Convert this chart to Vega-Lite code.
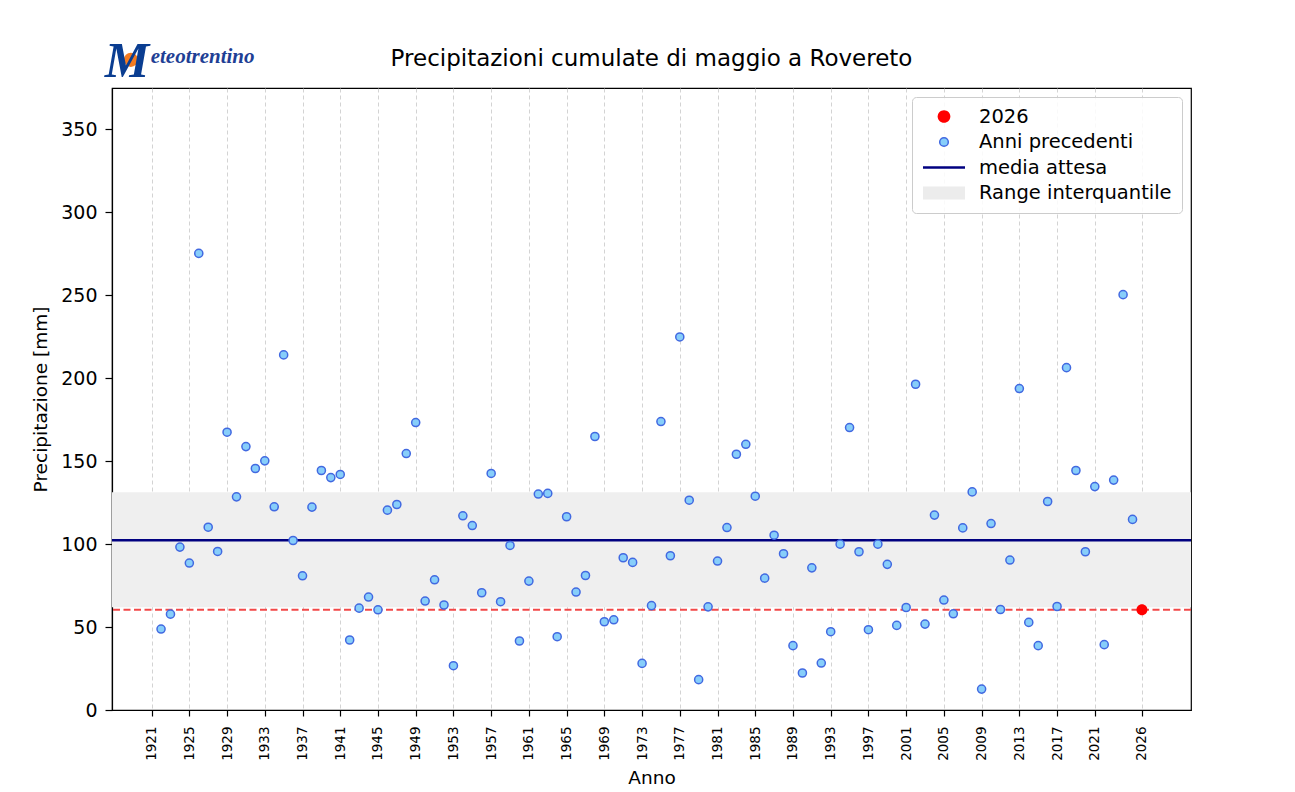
{
  "$schema": "https://vega.github.io/schema/vega-lite/v6.json",
  "width": 1079,
  "height": 622,
  "autosize": {"type": "none"},
  "padding": {"left": 112, "top": 88, "right": 104, "bottom": 82},
  "background": "white",
  "title": {
    "text": "Precipitazioni cumulate di maggio a Rovereto",
    "font": "DejaVu Sans",
    "fontSize": 23,
    "fontWeight": "normal",
    "color": "#000000",
    "anchor": "middle",
    "offset": -34
  },
  "config": {
    "font": "DejaVu Sans",
    "view": {"stroke": "#000000", "strokeWidth": 1.2},
    "axis": {
      "domainColor": "#000000",
      "domainWidth": 1.2,
      "tickColor": "#000000",
      "tickWidth": 1.2,
      "labelColor": "#000000",
      "titleColor": "#000000",
      "labelFont": "DejaVu Sans",
      "titleFont": "DejaVu Sans",
      "titleFontWeight": "normal"
    },
    "legend": {
      "orient": "top-right",
      "offset": 9,
      "padding": 10,
      "fillColor": "rgba(255,255,255,0.85)",
      "strokeColor": "#cccccc",
      "cornerRadius": 4,
      "labelFont": "DejaVu Sans",
      "labelFontSize": 19.5,
      "labelColor": "#000000",
      "labelLimit": 400,
      "rowPadding": 5.5,
      "clipHeight": 19,
      "labelOffset": 13,
      "symbolOffset": 0,
      "symbolSize": 1764,
      "symbolStrokeWidth": 1.5
    }
  },
  "datasets": {
    "anni": [
      {"anno": 1922, "valore": 48.8, "serie": "Anni precedenti"},
      {"anno": 1923, "valore": 57.8, "serie": "Anni precedenti"},
      {"anno": 1924, "valore": 98.2, "serie": "Anni precedenti"},
      {"anno": 1925, "valore": 88.6, "serie": "Anni precedenti"},
      {"anno": 1926, "valore": 275.3, "serie": "Anni precedenti"},
      {"anno": 1927, "valore": 110.2, "serie": "Anni precedenti"},
      {"anno": 1928, "valore": 95.6, "serie": "Anni precedenti"},
      {"anno": 1929, "valore": 167.5, "serie": "Anni precedenti"},
      {"anno": 1930, "valore": 128.5, "serie": "Anni precedenti"},
      {"anno": 1931, "valore": 158.8, "serie": "Anni precedenti"},
      {"anno": 1932, "valore": 145.6, "serie": "Anni precedenti"},
      {"anno": 1933, "valore": 150.2, "serie": "Anni precedenti"},
      {"anno": 1934, "valore": 122.5, "serie": "Anni precedenti"},
      {"anno": 1935, "valore": 214.1, "serie": "Anni precedenti"},
      {"anno": 1936, "valore": 102.2, "serie": "Anni precedenti"},
      {"anno": 1937, "valore": 80.9, "serie": "Anni precedenti"},
      {"anno": 1938, "valore": 122.3, "serie": "Anni precedenti"},
      {"anno": 1939, "valore": 144.4, "serie": "Anni precedenti"},
      {"anno": 1940, "valore": 140.1, "serie": "Anni precedenti"},
      {"anno": 1941, "valore": 142.0, "serie": "Anni precedenti"},
      {"anno": 1942, "valore": 42.2, "serie": "Anni precedenti"},
      {"anno": 1943, "valore": 61.4, "serie": "Anni precedenti"},
      {"anno": 1944, "valore": 68.1, "serie": "Anni precedenti"},
      {"anno": 1945, "valore": 60.4, "serie": "Anni precedenti"},
      {"anno": 1946, "valore": 120.5, "serie": "Anni precedenti"},
      {"anno": 1947, "valore": 123.9, "serie": "Anni precedenti"},
      {"anno": 1948, "valore": 154.6, "serie": "Anni precedenti"},
      {"anno": 1949, "valore": 173.3, "serie": "Anni precedenti"},
      {"anno": 1950, "valore": 65.7, "serie": "Anni precedenti"},
      {"anno": 1951, "valore": 78.5, "serie": "Anni precedenti"},
      {"anno": 1952, "valore": 63.3, "serie": "Anni precedenti"},
      {"anno": 1953, "valore": 26.7, "serie": "Anni precedenti"},
      {"anno": 1954, "valore": 117.1, "serie": "Anni precedenti"},
      {"anno": 1955, "valore": 111.2, "serie": "Anni precedenti"},
      {"anno": 1956, "valore": 70.7, "serie": "Anni precedenti"},
      {"anno": 1957, "valore": 142.6, "serie": "Anni precedenti"},
      {"anno": 1958, "valore": 65.3, "serie": "Anni precedenti"},
      {"anno": 1959, "valore": 99.2, "serie": "Anni precedenti"},
      {"anno": 1960, "valore": 41.6, "serie": "Anni precedenti"},
      {"anno": 1961, "valore": 77.7, "serie": "Anni precedenti"},
      {"anno": 1962, "valore": 130.2, "serie": "Anni precedenti"},
      {"anno": 1963, "valore": 130.6, "serie": "Anni precedenti"},
      {"anno": 1964, "valore": 44.2, "serie": "Anni precedenti"},
      {"anno": 1965, "valore": 116.5, "serie": "Anni precedenti"},
      {"anno": 1966, "valore": 71.1, "serie": "Anni precedenti"},
      {"anno": 1967, "valore": 81.1, "serie": "Anni precedenti"},
      {"anno": 1968, "valore": 164.9, "serie": "Anni precedenti"},
      {"anno": 1969, "valore": 53.2, "serie": "Anni precedenti"},
      {"anno": 1970, "valore": 54.4, "serie": "Anni precedenti"},
      {"anno": 1971, "valore": 91.8, "serie": "Anni precedenti"},
      {"anno": 1972, "valore": 89.0, "serie": "Anni precedenti"},
      {"anno": 1973, "valore": 28.1, "serie": "Anni precedenti"},
      {"anno": 1974, "valore": 62.9, "serie": "Anni precedenti"},
      {"anno": 1975, "valore": 173.9, "serie": "Anni precedenti"},
      {"anno": 1976, "valore": 93.0, "serie": "Anni precedenti"},
      {"anno": 1977, "valore": 224.9, "serie": "Anni precedenti"},
      {"anno": 1978, "valore": 126.5, "serie": "Anni precedenti"},
      {"anno": 1979, "valore": 18.3, "serie": "Anni precedenti"},
      {"anno": 1980, "valore": 62.2, "serie": "Anni precedenti"},
      {"anno": 1981, "valore": 89.8, "serie": "Anni precedenti"},
      {"anno": 1982, "valore": 110.0, "serie": "Anni precedenti"},
      {"anno": 1983, "valore": 154.2, "serie": "Anni precedenti"},
      {"anno": 1984, "valore": 160.2, "serie": "Anni precedenti"},
      {"anno": 1985, "valore": 128.9, "serie": "Anni precedenti"},
      {"anno": 1986, "valore": 79.5, "serie": "Anni precedenti"},
      {"anno": 1987, "valore": 105.4, "serie": "Anni precedenti"},
      {"anno": 1988, "valore": 94.2, "serie": "Anni precedenti"},
      {"anno": 1989, "valore": 38.8, "serie": "Anni precedenti"},
      {"anno": 1990, "valore": 22.3, "serie": "Anni precedenti"},
      {"anno": 1991, "valore": 85.7, "serie": "Anni precedenti"},
      {"anno": 1992, "valore": 28.3, "serie": "Anni precedenti"},
      {"anno": 1993, "valore": 47.2, "serie": "Anni precedenti"},
      {"anno": 1994, "valore": 100.0, "serie": "Anni precedenti"},
      {"anno": 1995, "valore": 170.3, "serie": "Anni precedenti"},
      {"anno": 1996, "valore": 95.4, "serie": "Anni precedenti"},
      {"anno": 1997, "valore": 48.4, "serie": "Anni precedenti"},
      {"anno": 1998, "valore": 100.0, "serie": "Anni precedenti"},
      {"anno": 1999, "valore": 87.8, "serie": "Anni precedenti"},
      {"anno": 2000, "valore": 51.0, "serie": "Anni precedenti"},
      {"anno": 2001, "valore": 61.8, "serie": "Anni precedenti"},
      {"anno": 2002, "valore": 196.4, "serie": "Anni precedenti"},
      {"anno": 2003, "valore": 51.8, "serie": "Anni precedenti"},
      {"anno": 2004, "valore": 117.5, "serie": "Anni precedenti"},
      {"anno": 2005, "valore": 66.3, "serie": "Anni precedenti"},
      {"anno": 2006, "valore": 58.0, "serie": "Anni precedenti"},
      {"anno": 2007, "valore": 109.8, "serie": "Anni precedenti"},
      {"anno": 2008, "valore": 131.5, "serie": "Anni precedenti"},
      {"anno": 2009, "valore": 12.6, "serie": "Anni precedenti"},
      {"anno": 2010, "valore": 112.4, "serie": "Anni precedenti"},
      {"anno": 2011, "valore": 60.6, "serie": "Anni precedenti"},
      {"anno": 2012, "valore": 90.4, "serie": "Anni precedenti"},
      {"anno": 2013, "valore": 193.8, "serie": "Anni precedenti"},
      {"anno": 2014, "valore": 52.8, "serie": "Anni precedenti"},
      {"anno": 2015, "valore": 38.8, "serie": "Anni precedenti"},
      {"anno": 2016, "valore": 125.7, "serie": "Anni precedenti"},
      {"anno": 2017, "valore": 62.4, "serie": "Anni precedenti"},
      {"anno": 2018, "valore": 206.4, "serie": "Anni precedenti"},
      {"anno": 2019, "valore": 144.4, "serie": "Anni precedenti"},
      {"anno": 2020, "valore": 95.4, "serie": "Anni precedenti"},
      {"anno": 2021, "valore": 134.7, "serie": "Anni precedenti"},
      {"anno": 2022, "valore": 39.4, "serie": "Anni precedenti"},
      {"anno": 2023, "valore": 138.6, "serie": "Anni precedenti"},
      {"anno": 2024, "valore": 250.4, "serie": "Anni precedenti"},
      {"anno": 2025, "valore": 114.9, "serie": "Anni precedenti"},
      {"anno": 2026, "valore": 60.4, "serie": "2026"}
    ],
    "statistiche": [
      {"media": 102.3, "q1": 62.0, "q3": 131.3}
    ]
  },
  "layer": [
    {
      "data": {"name": "statistiche"},
      "mark": {"type": "rect", "color": "#efefef", "opacity": 1},
      "encoding": {
        "y": {"field": "q1", "type": "quantitative", "title": "Precipitazione [mm]"},
        "y2": {"field": "q3"}
      }
    },
    {
      "data": {"name": "statistiche"},
      "mark": {"type": "rule", "color": "#000080", "strokeWidth": 2.5},
      "encoding": {
        "y": {"field": "media", "type": "quantitative", "title": "Precipitazione [mm]"}
      }
    },
    {
      "data": {"name": "anni"},
      "transform": [{"filter": "datum.serie === '2026'"}],
      "mark": {"type": "rule", "color": "#f24848", "strokeWidth": 2, "strokeDash": [7, 3.5]},
      "encoding": {
        "y": {"field": "valore", "type": "quantitative", "title": "Precipitazione [mm]"}
      }
    },
    {
      "data": {"name": "anni"},
      "mark": {"type": "point", "filled": true, "opacity": 1, "strokeWidth": 1.5},
      "encoding": {
        "x": {
          "field": "anno",
          "type": "quantitative",
          "scale": {"domain": [1916.8, 2031.2], "nice": false, "zero": false},
          "axis": {
            "values": [1921, 1925, 1929, 1933, 1937, 1941, 1945, 1949, 1953, 1957, 1961, 1965, 1969, 1973, 1977, 1981, 1985, 1989, 1993, 1997, 2001, 2005, 2009, 2013, 2017, 2021, 2026],
            "format": "d",
            "labelAngle": -90,
            "labelFontSize": 13.5,
            "labelPadding": 10,
            "labelOverlap": false,
            "labelFlush": false,
            "labelBound": false,
            "tickSize": 6,
            "grid": true,
            "gridColor": "#c8c8c8",
            "gridDash": [4, 3],
            "gridWidth": 0.8,
            "title": "Anno",
            "titleFontSize": 18.5,
            "titlePadding": 8
          }
        },
        "y": {
          "field": "valore",
          "type": "quantitative",
          "scale": {"domain": [0, 375], "nice": false, "zero": true},
          "axis": {
            "values": [0, 50, 100, 150, 200, 250, 300, 350],
            "labelFontSize": 19,
            "labelPadding": 8,
            "tickSize": 7,
            "grid": false,
            "title": "Precipitazione [mm]",
            "titleFontSize": 18.5,
            "titlePadding": 10
          }
        },
        "color": {
          "field": "serie",
          "type": "nominal",
          "scale": {
            "domain": ["2026", "Anni precedenti", "media attesa", "Range interquantile"],
            "range": ["#ff0000", "#87cefa", "#000080", "#ececec"]
          },
          "legend": {"title": null}
        },
        "shape": {
          "field": "serie",
          "type": "nominal",
          "scale": {
            "domain": ["2026", "Anni precedenti", "media attesa", "Range interquantile"],
            "range": [
              "M-0.302,0C-0.302,-0.1668,-0.1668,-0.302,0,-0.302C0.1668,-0.302,0.302,-0.1668,0.302,0C0.302,0.1668,0.1668,0.302,0,0.302C-0.1668,0.302,-0.302,0.1668,-0.302,0Z",
              "M-0.205,0C-0.205,-0.1132,-0.1132,-0.205,0,-0.205C0.1132,-0.205,0.205,-0.1132,0.205,0C0.205,0.1132,0.1132,0.205,0,0.205C-0.1132,0.205,-0.205,0.1132,-0.205,0Z",
              "M-1,-0.06H1V0.06H-1Z",
              "M-1,-0.31H1V0.31H-1Z"
            ]
          },
          "legend": {"title": null}
        },
        "stroke": {
          "field": "serie",
          "type": "nominal",
          "scale": {
            "domain": ["2026", "Anni precedenti", "media attesa", "Range interquantile"],
            "range": ["transparent", "#4169e1", "transparent", "transparent"]
          },
          "legend": {"title": null}
        },
        "size": {
          "condition": {"test": "datum.serie === '2026'", "value": 1326},
          "value": 1560
        }
      }
    },
    {
      "data": {"values": [{}]},
      "mark": {"type": "point", "filled": true, "color": "#f47b20", "size": 200, "opacity": 1},
      "encoding": {
        "x": {"datum": 1918.8, "type": "quantitative"},
        "y": {"datum": 392, "type": "quantitative"}
      }
    },
    {
      "data": {"values": [{}]},
      "mark": {"type": "text", "text": "M", "font": "Liberation Serif", "fontStyle": "italic", "fontWeight": "bold", "fontSize": 50, "color": "#0a3d91", "align": "center", "baseline": "middle"},
      "encoding": {
        "x": {"datum": 1918.4, "type": "quantitative"},
        "y": {"datum": 390.7, "type": "quantitative"}
      }
    },
    {
      "data": {"values": [{}]},
      "mark": {"type": "text", "text": "eteotrentino", "font": "Liberation Serif", "fontStyle": "italic", "fontWeight": "bold", "fontSize": 21, "color": "#1f3f95", "align": "left", "baseline": "middle"},
      "encoding": {
        "x": {"datum": 1920.9, "type": "quantitative"},
        "y": {"datum": 393.5, "type": "quantitative"}
      }
    }
  ]
}
